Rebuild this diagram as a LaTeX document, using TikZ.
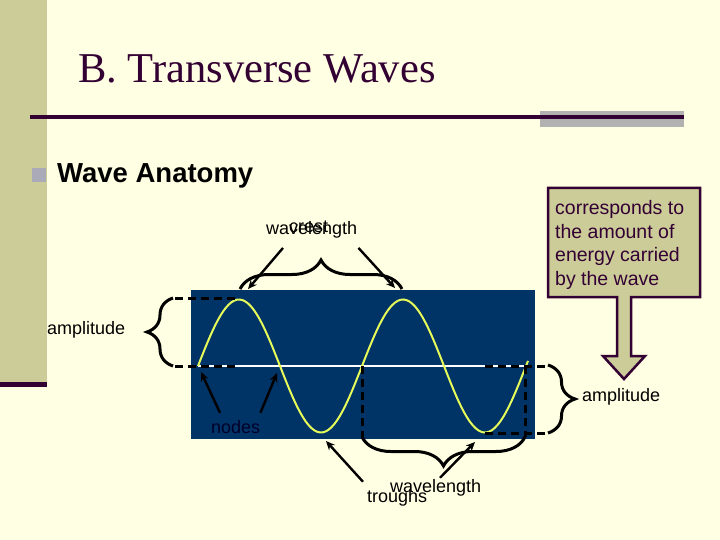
\documentclass[tikz,border=0pt]{standalone}
\usepackage{fontspec}
\setmainfont{Liberation Sans}
\newfontfamily\titlefont{Liberation Serif}
\usetikzlibrary{arrows.meta, decorations.pathreplacing}
\definecolor{slidebg}{RGB}{255,255,227}
\definecolor{olivebar}{RGB}{204,204,153}
\definecolor{plum}{RGB}{51,0,51}
\definecolor{rulegray}{RGB}{178,178,178}
\definecolor{bulletgray}{RGB}{170,170,185}
\definecolor{seablue}{RGB}{0,51,102}
\definecolor{wavey}{RGB}{230,250,90}
\definecolor{nodeink}{RGB}{0,0,40}

\begin{document}
\begin{tikzpicture}[x=1pt, y=-1pt,
    lbl/.style={inner sep=0pt, anchor=base west, font=\fontsize{18}{20}\selectfont},
    dashln/.style={line width=3pt, dash pattern=on 8pt off 5pt},
    brc/.style={line width=3pt, decorate, decoration={brace, amplitude=#1}},
    arr/.style={line width=2.4pt, -{Stealth[length=9pt,width=8pt]}}
  ]
    \useasboundingbox[fill=slidebg] (0,0) rectangle (720,540);
    % slide frame
    \fill[olivebar] (0,0) rectangle (47,383);
    \fill[plum] (0,382) rectangle (47,387);
    \fill[rulegray] (540,111) rectangle (684,127);
    \draw[plum, line width=3.5pt] (30,117) -- (684,117);
    \fill[bulletgray] (32,168) rectangle (46,182);
    \node[anchor=base west, inner sep=0pt, text=plum, font=\titlefont\fontsize{42.5}{48}\selectfont] (title) at (78,83) {B. Transverse Waves};
    \node[anchor=base west, inner sep=0pt, font=\bfseries\fontsize{27.5}{30}\selectfont] (anatomy) at (57,183) {Wave Anatomy};

    % wave panel
    \fill[seablue] (191,290) rectangle (535,439);
    \draw[white, line width=1.5pt] (198,366) -- (530,366);
    \draw[wavey, line width=2pt, domain=198:528, samples=120, smooth] plot (\x, {366-66.5*sin((\x-198)/164*360)});
    \coordinate (crestL) at (248,289);
    \coordinate (crestR) at (395,288);
    \coordinate (nodeA) at (201,372);
    \coordinate (nodeB) at (277,373);
    \coordinate (trough) at (326,441);
    \coordinate (wlpt) at (475,442);

    % dashed guides and braces
    \draw[dashln] (175,298) -- (238,298);
    \draw[dashln] (175,366) -- (238,366);
    \draw[dashln] (362,366) -- (362,437);
    \draw[dashln] (525,366) -- (525,437);
    \draw[dashln] (485,366) -- (547,366);
    \draw[dashln] (485,433) -- (547,433);
    \draw[brc=26pt] (173,366) -- (173,298);
    \draw[brc=29pt] (240,289) -- (402,289);
    \draw[brc=29pt] (525,437) -- (362,437);
    \draw[brc=27pt] (548,365) -- (548,433);

    % labels
    \node[lbl] (wltop) at (266,235) {wavelength};
    \node[lbl] (crest) at (289,233) {crest};
    \node[lbl] (ampl) at (47,334) {amplitude};
    \node[lbl] (ampr) at (582,401) {amplitude};
    \node[lbl, text=nodeink] (nodeslbl) at (211,433) {nodes};
    \node[lbl] (wlbot) at (390,492) {wavelength};
    \node[lbl] (troughs) at (367,502) {troughs};

    \draw[arr] ([xshift=17pt,yshift=-9pt]wltop.south west) -- (crestL);
    \draw[arr] ([xshift=1pt,yshift=-9pt]wltop.south east) -- (crestR);
    \draw[arr] ([xshift=9pt,yshift=7pt]nodeslbl.north west) -- (nodeA);
    \draw[arr] ([yshift=7pt]nodeslbl.north east) -- (nodeB);
    \draw[arr] ([xshift=-4pt,yshift=7pt]troughs.north west) -- (trough);
    \draw[arr] ([xshift=50pt,yshift=1pt]wlbot.north west) -- (wlpt);

    % callout
    \draw[plum, line width=2.5pt, fill=olivebar, line join=miter] (548,188) -- (700,188) -- (700,297) -- (631,297) -- (631,356) -- (645,356) -- (624,379) -- (603,356) -- (617,356) -- (617,297) -- (548,297) -- cycle;
    \node[anchor=north west, inner sep=0pt, align=left, text=plum, font=\fontsize{19.5}{23.7}\selectfont] (energy) at (555,200) {corresponds to\\the amount of\\energy carried\\by the wave};
  \end{tikzpicture}
\end{document}
